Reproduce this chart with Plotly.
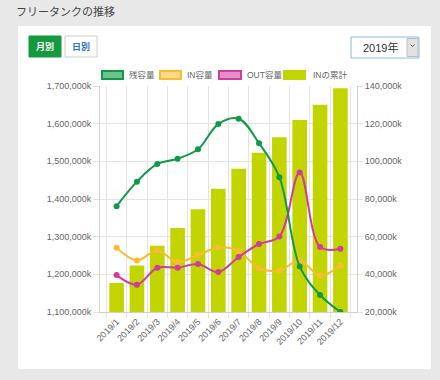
import plotly.graph_objects as go

months = ["2019/1", "2019/2", "2019/3", "2019/4", "2019/5", "2019/6",
          "2019/7", "2019/8", "2019/9", "2019/10", "2019/11", "2019/12"]
remaining = [1381000, 1446000, 1493000, 1507000, 1532000, 1599000,
             1613000, 1548000, 1458000, 1221000, 1145000, 1100000]
in_volume = [54100, 47400, 52700, 46500, 50200, 54300,
             52500, 43100, 42100, 47200, 39400, 44700]
out_volume = [39600, 34500, 43500, 43500, 45500, 41200,
              49200, 56100, 60100, 94100, 54500, 53600]
in_cumulative = [35400, 44700, 55200, 64600, 74600, 85400,
                 96000, 104500, 112800, 122000, 130000, 138800]
series_names = ["残容量", "IN容量", "OUT容量", "INの累計"]

W, H = 440, 380
ML, MR, MT, MB = 100, 83, 86, 68
PW, PH = W - ML - MR, H - MT - MB

def px(x):
    return (x - ML) / PW

def py(y):
    return (H - MB - y) / PH

GREEN = "#0f9a48"
YELLOW = "#f9bb32"
PINK = "#d03d9d"
LIME = "#c3d500"
GRID = "#e4e4e4"
TICKC = "#666666"

fig = go.Figure()
fig.add_trace(go.Bar(x=months, y=in_cumulative, name=series_names[3],
                     marker=dict(color=LIME, line=dict(width=0)),
                     yaxis="y", showlegend=False))
fig.add_trace(go.Scatter(x=months, y=in_volume, name=series_names[1],
                         mode="lines+markers", yaxis="y",
                         line=dict(color=YELLOW, width=2, shape="spline", smoothing=1.0),
                         marker=dict(size=6, color=YELLOW), showlegend=False))
fig.add_trace(go.Scatter(x=months, y=out_volume, name=series_names[2],
                         mode="lines+markers", yaxis="y",
                         line=dict(color=PINK, width=2, shape="spline", smoothing=1.0),
                         marker=dict(size=6, color=PINK), showlegend=False))
fig.add_trace(go.Scatter(x=months, y=remaining, name=series_names[0],
                         mode="lines+markers", yaxis="y2",
                         line=dict(color=GREEN, width=2, shape="spline", smoothing=1.0),
                         marker=dict(size=6, color=GREEN), showlegend=False))

shapes = []
annotations = []

def rect(x0, y0, x1, y1, fill, line, lw=1, layer="below"):
    shapes.append(dict(type="rect", xref="paper", yref="paper",
                       x0=px(x0), x1=px(x1), y0=py(y1), y1=py(y0),
                       fillcolor=fill, line=dict(color=line, width=lw), layer=layer))

def text(x, y, s, size, color, xanchor="center", bold=False, family="Noto Sans CJK JP"):
    annotations.append(dict(xref="paper", yref="paper", x=px(x), y=py(y),
                            text=("<b>%s</b>" % s) if bold else s, showarrow=False,
                            xanchor=xanchor, yanchor="middle", borderpad=0,
                            font=dict(size=size, color=color, family=family)))

# card
rect(18, 26, 431, 369, "#ffffff", "#ffffff", 0)
# title
text(15, 11, "フリータンクの推移", 11, "#444444", xanchor="left")
# buttons
rect(29, 36, 61, 57, "#15993f", "#15993f", 1, layer="above")
text(45, 46.5, "月別", 9, "#ffffff", bold=True)
rect(65, 36, 97, 57, "#ffffff", "#cccccc", 1, layer="above")
text(81, 46.5, "日別", 9, "#2f6fd1", bold=True)
# dropdown
rect(351, 37, 419, 58, "#ffffff", "#8db9e8", 1, layer="above")
rect(407, 38.5, 418, 56.5, "#e2e2e2", "#bdbdbd", 1, layer="above")
text(380, 48, "2019年", 11, "#333333", family="Liberation Sans, Noto Sans CJK JP")
shapes.append(dict(type="path", xref="paper", yref="paper",
                   path="M %f %f L %f %f L %f %f" % (px(410.5), py(44.5), px(412.5), py(46.5), px(414.5), py(44.5)),
                   line=dict(color="#555555", width=1), layer="above"))

# legend
leg = [(102, 123, 127.5, "#6cc28d", GREEN, series_names[0]),
       (160, 181, 185.5, "#fcd889", YELLOW, series_names[1]),
       (219, 241, 245.5, "#e48ecb", PINK, series_names[2]),
       (284, 305, 311.5, LIME, LIME, series_names[3])]
for x0, x1, tx, fill, border, name in leg:
    rect(x0, 71, x1, 79, fill, border, 2, layer="above")
    text(tx, 75, name, 8.5, TICKC, xanchor="left",
         family="Liberation Sans, Noto Sans CJK JP")

tickfont = dict(size=9, color=TICKC, family="Liberation Sans, Arial, sans-serif")

fig.update_layout(
    width=W, height=H,
    margin=dict(l=ML, r=MR, t=MT, b=MB, pad=0),
    paper_bgcolor="#e8e8e8",
    plot_bgcolor="#ffffff",
    bargap=0.28,
    showlegend=False,
    shapes=shapes,
    annotations=annotations,
    xaxis=dict(type="category", tickson="boundaries", showgrid=True, gridcolor=GRID,
               gridwidth=1, ticks="outside", ticklen=5, tickcolor=GRID,
               showline=True, linecolor="#d0d0d0", tickangle=-45,
               tickfont=tickfont, fixedrange=True),
    yaxis=dict(side="right", range=[20000, 140000], dtick=20000,
               tickformat=",d", ticksuffix="k", showgrid=True, gridcolor=GRID,
               zeroline=False, ticks="outside", ticklen=5, tickcolor=GRID,
               showline=True, linecolor="#d0d0d0", tickfont=tickfont),
    yaxis2=dict(side="left", overlaying="y", range=[1100000, 1700000], dtick=100000,
                tickformat=",d", ticksuffix="k", showgrid=False, zeroline=False,
                ticks="outside", ticklen=6, tickcolor=GRID,
                showline=True, linecolor="#d0d0d0", tickfont=tickfont),
)

fig.write_html("out.html", config={"displayModeBar": False},
               post_script="document.body.style.margin='0';document.body.style.overflow='hidden';")
